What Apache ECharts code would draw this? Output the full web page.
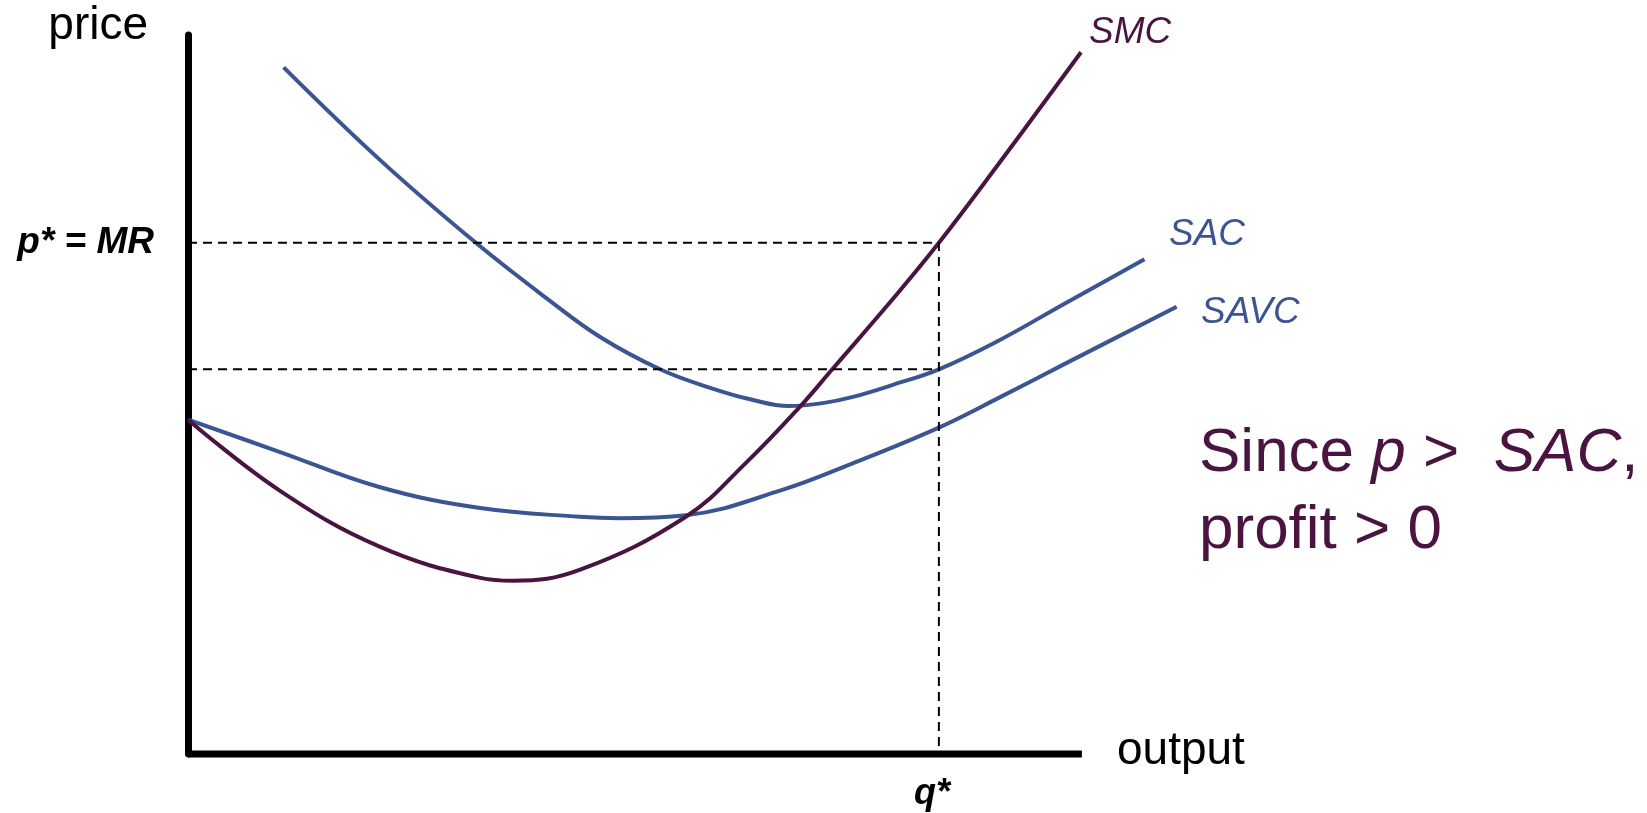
<!DOCTYPE html>
<html>
<head>
<meta charset="utf-8">
<title>Short-run cost curves</title>
<script src="https://cdn.jsdelivr.net/npm/echarts@6.0.0/dist/echarts.min.js"></script>
<style>
  html, body { margin: 0; padding: 0; background: #ffffff; }
  #chart { width: 1647px; height: 813px; }
</style>
</head>
<body>
<div id="chart"></div>
<script>
// Short-run cost curves of a price-taking firm: [output, price] pairs
const smcCurve = [
  [0, 46.5], [10.3, 36.6], [21.5, 28.8], [32.7, 24.5], [36.4, 24.1],
  [43.8, 25.6], [55.7, 33.0], [62.5, 40.6], [68.6, 48.5],
  [72.0, 53.4], [79.2, 63.8], [84.0, 71.1], [90.4, 81.6], [99.9, 97.6]
];
const sacCurve = [
  [10.7, 95.5], [21.5, 82.6], [32.1, 71.2], [40.2, 63.3], [46.1, 58.0],
  [53.0, 53.4], [58.5, 50.9], [63.0, 49.3], [67.2, 48.4], [71.0, 48.8],
  [74.5, 49.7], [79.0, 51.4], [84.0, 53.5], [90.4, 57.3], [98.3, 62.8],
  [107.0, 68.8]
];
const savcCurve = [
  [0, 46.5], [10.3, 42.0], [21.5, 37.1], [32.7, 34.2], [43.8, 33.0],
  [48.3, 32.8], [55.7, 33.2], [66.4, 36.7], [74.5, 40.5], [84.0, 45.4],
  [90.8, 49.6], [98.3, 54.4], [110.6, 62.2]
];

// Equilibrium: price equals marginal cost at q*
const qStar = 84.0;
const pStar = 71.1;
const sacAtQStar = 53.5;

// Visible length of the output axis; the scale runs further so the
// SAC and SAVC curves can continue past its end
const outputAxisEnd = 100;
const outputScaleMax = 115;
const priceAxisMax = 100;

// Axis and curve text
const axisNames = { price: 'price', output: 'output' };
const tickLabels = { q: 'q*', p: 'p* = MR' };
const curveNames = ['SMC', 'SAC', 'SAVC'];

const BLUE = '#3B5593';
const PURPLE = '#4A1441';
const FONT = "'Liberation Sans', Arial, Helvetica, sans-serif";

const chart = echarts.init(document.getElementById('chart'), null, { renderer: 'canvas' });

const curveSeries = (name, data, color) => ({
  name: name,
  type: 'line',
  data: data,
  smooth: 0.4,
  symbol: 'none',
  clip: false,
  z: 3,
  lineStyle: { color: color, width: 4 }
});

const dashedSeries = (name, data) => ({
  name: name,
  type: 'line',
  data: data,
  symbol: 'none',
  clip: false,
  z: 4,
  lineStyle: { color: '#000000', width: 2, type: [9, 6] }
});

chart.setOption({
  animation: false,
  backgroundColor: '#ffffff',
  grid: { left: 188, right: 431, top: 35, bottom: 59 },
  xAxis: {
    type: 'value',
    min: 0,
    max: outputScaleMax,
    splitLine: { show: false },
    axisTick: { show: false },
    axisLine: { show: false },
    axisLabel: {
      customValues: [qStar],
      formatter: () => tickLabels.q,
      margin: 22,
      padding: [0, 14, 0, 0],
      color: '#000000',
      fontFamily: FONT,
      fontSize: 36,
      fontWeight: 'bold',
      fontStyle: 'italic'
    }
  },
  yAxis: {
    type: 'value',
    min: 0,
    max: priceAxisMax,
    splitLine: { show: false },
    axisTick: { show: false },
    axisLine: { show: true, onZero: false, lineStyle: { color: '#000000', width: 7 } },
    axisLabel: {
      customValues: [pStar],
      formatter: () => tickLabels.p,
      margin: 34,
      padding: [15, 0, 0, 0],
      color: '#000000',
      fontFamily: FONT,
      fontSize: 37,
      fontWeight: 'bold',
      fontStyle: 'italic'
    }
  },
  series: [
    {
      name: 'output axis',
      type: 'line',
      data: [[0, 0], [outputAxisEnd, 0]],
      symbol: 'none',
      clip: false,
      silent: true,
      z: 5,
      lineStyle: { color: '#000000', width: 7 }
    },
    dashedSeries('p* level', [[0, pStar], [qStar, pStar], [qStar, 0]]),
    dashedSeries('SAC at q*', [[0, sacAtQStar], [qStar, sacAtQStar]]),
    curveSeries(curveNames[1], sacCurve, BLUE),
    curveSeries(curveNames[2], savcCurve, BLUE),
    curveSeries(curveNames[0], smcCurve, PURPLE)
  ],
  graphic: [
    { type: 'text', style: { text: axisNames.price, x: 148, y: 26, align: 'right', verticalAlign: 'middle', fill: '#000000', fontFamily: FONT, fontSize: 46 } },
    { type: 'text', style: { text: axisNames.output, x: 1117, y: 751, align: 'left', verticalAlign: 'middle', fill: '#000000', fontFamily: FONT, fontSize: 46 } },
    { type: 'text', style: { text: curveNames[0], x: 1089, y: 33, align: 'left', verticalAlign: 'middle', fill: PURPLE, fontFamily: FONT, fontSize: 37, fontStyle: 'italic' } },
    { type: 'text', style: { text: curveNames[1], x: 1169, y: 235, align: 'left', verticalAlign: 'middle', fill: BLUE, fontFamily: FONT, fontSize: 37, fontStyle: 'italic' } },
    { type: 'text', style: { text: curveNames[2], x: 1201, y: 313, align: 'left', verticalAlign: 'middle', fill: BLUE, fontFamily: FONT, fontSize: 37, fontStyle: 'italic' } },
    {
      type: 'text',
      style: {
        text: '{n|Since }{i|p}{n| >  }{i|SAC}{n|,}',
        x: 1199, y: 454, align: 'left', verticalAlign: 'middle',
        fill: PURPLE, fontFamily: FONT, fontSize: 62,
        rich: {
          n: { fill: PURPLE, fontFamily: FONT, fontSize: 62 },
          i: { fill: PURPLE, fontFamily: FONT, fontSize: 62, fontStyle: 'italic' }
        }
      }
    },
    { type: 'text', style: { text: 'profit > 0', x: 1199, y: 531, align: 'left', verticalAlign: 'middle', fill: PURPLE, fontFamily: FONT, fontSize: 62 } }
  ]
});
</script>
</body>
</html>
